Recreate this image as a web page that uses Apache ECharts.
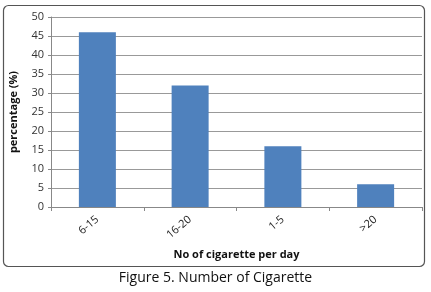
<!DOCTYPE html>
<html><head><meta charset="utf-8">
<script src="https://cdn.jsdelivr.net/npm/echarts@6/dist/echarts.min.js"></script>
<style>html,body{margin:0;padding:0;background:#fff}#c{width:431px;height:292px}</style>
</head><body><div id="c"></div>
<script>
const categories = ['6-15', '16-20', '1-5', '>20'];
const values = [46, 32, 16, 6];
const yTicks = [0, 5, 10, 15, 20, 25, 30, 35, 40, 45, 50];

const chart = echarts.init(document.getElementById('c'), null, {renderer: 'canvas'});
chart.setOption({
  animation: false,
  backgroundColor: '#fff',
  graphic: [
    {type: 'rect', shape: {x: 3.5, y: 5.5, width: 421, height: 261, r: 5},
     style: {fill: 'none', stroke: '#555', lineWidth: 1.2}, z: -1},
    {type: 'text', left: 'center', top: 271,
     style: {text: 'Figure 5. Number of Cigarette', font: '14px "Open Sans", "Noto Sans", sans-serif', fill: '#111'}}
  ],
  grid: {left: 47, right: 9, top: 17, bottom: 85},
  xAxis: {
    type: 'category', data: categories,
    name: 'No of cigarette per day', nameLocation: 'middle', nameGap: 42,
    nameTextStyle: {fontWeight: 'bold', fontSize: 11, color: '#111', fontFamily: '"Open Sans", sans-serif'},
    axisLine: {lineStyle: {color: '#888'}},
    axisTick: {show: true, length: 4, lineStyle: {color: '#888'}},
    axisLabel: {rotate: 40, fontSize: 11, color: '#222', margin: 11, fontFamily: '"Open Sans", sans-serif'}
  },
  yAxis: {
    type: 'value', min: 0, max: 50, interval: 5,
    name: 'percentage (%)', nameLocation: 'middle', nameGap: 32,
    nameTextStyle: {fontWeight: 'bold', fontSize: 11, color: '#111', fontFamily: '"Open Sans", sans-serif'},
    axisLine: {show: true, lineStyle: {color: '#888'}},
    axisTick: {show: true, length: 3, lineStyle: {color: '#888'}},
    axisLabel: {fontSize: 11, color: '#333', margin: 7, fontFamily: '"Open Sans", sans-serif',
      formatter: v => yTicks.includes(v) ? String(v) : ''},
    splitLine: {lineStyle: {color: '#999', width: 1}}
  },
  series: [{
    type: 'bar', data: values, barWidth: 37,
    itemStyle: {color: '#4F81BD'}
  }]
});
</script></body></html>
